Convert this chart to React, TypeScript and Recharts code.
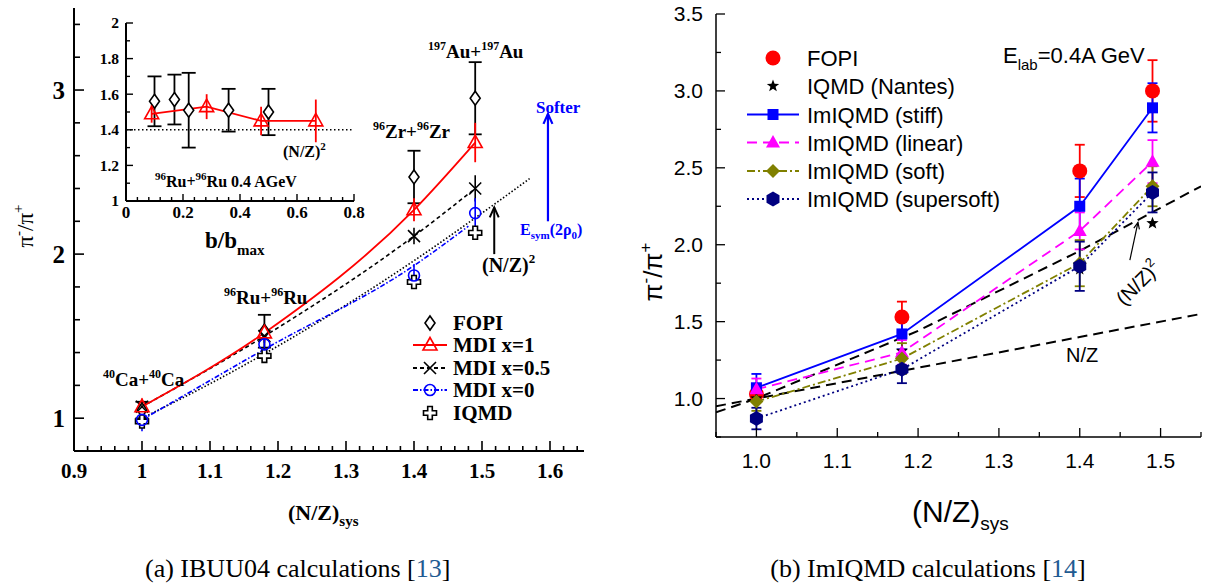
import React from 'react';
import { ComposedChart, Line, Scatter, XAxis, YAxis, ErrorBar, ReferenceLine } from 'recharts';

const SERIF = '"Liberation Serif", "Times New Roman", serif';
const SANS = '"Liberation Sans", Arial, sans-serif';

// ---------- panel (a): IBUU04 ----------
const nzSys = [1.0, 1.18, 1.4, 1.49];
const fopiA = [1.05, 1.53, 2.47, 2.95];
const fopiAErr = [0.05, 0.1, 0.16, 0.22];
const mdiX1 = [1.07, 1.52, 2.27, 2.68];
const mdiX1Err = [0.05, 0.05, 0.07, 0.12];
const mdiX05 = [1.07, 1.5, 2.11, 2.4];
const mdiX05Err = [0.03, 0.04, 0.05, 0.08];
const mdiX0 = [0.99, 1.45, 1.87, 2.25];
const mdiX0Err = [0.07, 0.06, 0.07, 0.09];
const mdiX0CurveX = [1.0, 1.18, 1.4, 1.48];
const mdiX0Curve = [0.99, 1.42, 1.93, 2.17];
const iqmdA = [0.98, 1.38, 1.83, 2.13];
const nzSqAX = [1.0, 1.1, 1.2, 1.3, 1.4, 1.5, 1.57];
const nzSqAY = [1.0, 1.21, 1.44, 1.69, 1.96, 2.25, 2.46];

// inset: Ru+Ru centrality dependence
const insetFopiB = [0.1, 0.17, 0.22, 0.36, 0.5];
const insetFopi = [1.56, 1.57, 1.51, 1.51, 1.5];
const insetFopiErr = [0.14, 0.14, 0.21, 0.12, 0.13];
const insetMdiB = [0.09, 0.283, 0.474, 0.666];
const insetMdi = [1.49, 1.53, 1.45, 1.45];
const insetMdiErr = [0.05, 0.07, 0.08, 0.12];
const insetNzSqB = [0, 0.8];
const insetNzSq = [1.4, 1.4];

// ---------- panel (b): ImIQMD ----------
const fopiB = [1.03, 1.53, 2.48, 3.0];
const fopiBErr = [0.05, 0.1, 0.17, 0.2];
const iqmdNantes = [1.0, 1.31, 1.84, 2.14];
const stiff = [1.07, 1.42, 2.25, 2.89];
const stiffErr = [0.09, 0.1, 0.18, 0.16];
const linear = [1.06, 1.3, 2.09, 2.54];
const linearErr = [0.07, 0.08, 0.12, 0.14];
const soft = [0.98, 1.26, 1.88, 2.38];
const softErr = [0.06, 0.1, 0.15, 0.13];
const supersoft = [0.87, 1.19, 1.86, 2.34];
const supersoftErr = [0.07, 0.09, 0.16, 0.13];
const refBX = [0.95, 1.0, 1.2, 1.4, 1.55];
const nzB = [0.95, 1.0, 1.2, 1.4, 1.55];
const nzSqB = [0.91, 1.0, 1.44, 1.96, 2.38];

// tick marks
const steps = (a: number, b: number, s: number) => {
  const out: number[] = [];
  const n = Math.round((b - a) / s);
  for (let i = 0; i <= n; i++) out.push(+(a + i * s).toFixed(4));
  return out;
};
const aYTicks = steps(0.8, 3.4, 0.2);
const aYMajors = [1, 2, 3];
const aXTicks = steps(0.9, 1.64, 0.02);
const aXMajors = [0.9, 1, 1.1, 1.2, 1.3, 1.4, 1.5, 1.6];
const inYTicks = steps(1, 2, 0.1);
const inYMajors = [1, 1.2, 1.4, 1.6, 1.8, 2];
const inXTicks = steps(0, 0.8, 0.04);
const inXMajors = [0, 0.2, 0.4, 0.6, 0.8];
const bYTicks = steps(0.75, 3.5, 0.25);
const bYMajors = [1, 1.5, 2, 2.5, 3, 3.5];
const bXTicks = steps(0.95, 1.55, 0.05);
const bXMajors = [1, 1.1, 1.2, 1.3, 1.4, 1.5];

const pts = (xs: number[], ys: number[], es?: number[]) =>
  xs.map((x, i) => ({ x, y: ys[i], e: es ? es[i] : 0 }));

type Side = 'left' | 'right' | 'bottom' | 'top';
interface AxisLook {
  side: Side;
  majors: number[];
  labels: boolean;
  major: number;
  minor: number;
  offset: number;
  font: string;
  size: number;
  weight?: number | string;
  stroke: number;
  fmt: (v: number) => string;
}

// inward ticks, labels only on major values
function tickRenderer(a: AxisLook) {
  return (props: any) => {
    const { x, y, payload } = props;
    const v = Number(payload.value);
    const isMajor = a.majors.some((m) => Math.abs(m - v) < 1e-6);
    const len = isMajor ? a.major : a.minor;
    let l = { x1: x, y1: y, x2: x, y2: y };
    let tx = x;
    let ty = y;
    let anchor: 'start' | 'middle' | 'end' = 'middle';
    if (a.side === 'left') {
      l = { x1: x, y1: y, x2: x + len, y2: y };
      tx = x - a.offset;
      ty = y + a.size * 0.35;
      anchor = 'end';
    } else if (a.side === 'right') {
      l = { x1: x, y1: y, x2: x - len, y2: y };
    } else if (a.side === 'bottom') {
      l = { x1: x, y1: y, x2: x, y2: y - len };
      ty = y + a.offset;
    } else {
      l = { x1: x, y1: y, x2: x, y2: y + len };
    }
    return (
      <g>
        <line {...l} stroke="#000" strokeWidth={a.stroke} />
        {isMajor && a.labels && (
          <text x={tx} y={ty} textAnchor={anchor} fontFamily={a.font} fontSize={a.size} fontWeight={a.weight} fill="#000">
            {a.fmt(v)}
          </text>
        )}
      </g>
    );
  };
}

const fmtShort = (v: number) => String(+v.toFixed(2));
const fmtOne = (v: number) => v.toFixed(1);

function starPath(cx: number, cy: number, ro: number, ri: number) {
  let d = '';
  for (let k = 0; k < 10; k++) {
    const r = k % 2 === 0 ? ro : ri;
    const ang = -Math.PI / 2 + (k * Math.PI) / 5;
    d += `${k === 0 ? 'M' : 'L'}${cx + r * Math.cos(ang)},${cy + r * Math.sin(ang)}`;
  }
  return d + 'Z';
}

function hexPath(cx: number, cy: number, r: number) {
  let d = '';
  for (let k = 0; k < 6; k++) {
    const ang = -Math.PI / 2 + (k * Math.PI) / 3;
    d += `${k === 0 ? 'M' : 'L'}${cx + r * Math.cos(ang)},${cy + r * Math.sin(ang)}`;
  }
  return d + 'Z';
}

function Marker({ kind, cx, cy }: { kind: string; cx: number; cy: number }) {
  if (cx == null || cy == null) return null;
  switch (kind) {
    case 'fopiA':
      return <path d={`M${cx},${cy - 7}L${cx + 5},${cy}L${cx},${cy + 7}L${cx - 5},${cy}Z`} fill="#fff" stroke="#000" strokeWidth={1.6} />;
    case 'mdi1':
      return <path d={`M${cx},${cy - 7.5}L${cx + 7},${cy + 5}L${cx - 7},${cy + 5}Z`} fill="none" stroke="#f00" strokeWidth={1.6} />;
    case 'mdi05':
      return <path d={`M${cx - 6},${cy - 6}L${cx + 6},${cy + 6}M${cx + 6},${cy - 6}L${cx - 6},${cy + 6}`} stroke="#000" strokeWidth={1.6} />;
    case 'mdi0':
      return <circle cx={cx} cy={cy} r={5.5} fill="none" stroke="#00f" strokeWidth={1.6} />;
    case 'iqmdA': {
      const a = 6.5;
      const b = 2.3;
      const p = [[-b, -a], [b, -a], [b, -b], [a, -b], [a, b], [b, b], [b, a], [-b, a], [-b, b], [-a, b], [-a, -b], [-b, -b]];
      return <polygon points={p.map(([u, w]) => `${cx + u},${cy + w}`).join(' ')} fill="#fff" stroke="#000" strokeWidth={1.6} />;
    }
    case 'fopiB':
      return <circle cx={cx} cy={cy} r={7.5} fill="#f00" />;
    case 'star':
      return <path d={starPath(cx, cy, 6.5, 2.7)} fill="#000" />;
    case 'stiff':
      return <rect x={cx - 5.5} y={cy - 5.5} width={11} height={11} fill="#0000ff" />;
    case 'linear':
      return <path d={`M${cx},${cy - 7.5}L${cx + 7},${cy + 5}L${cx - 7},${cy + 5}Z`} fill="#ff00ff" />;
    case 'soft':
      return <path d={`M${cx},${cy - 7}L${cx + 7},${cy}L${cx},${cy + 7}L${cx - 7},${cy}Z`} fill="#808000" />;
    case 'supersoft':
      return <path d={hexPath(cx, cy, 7.5)} fill="#000080" />;
    default:
      return null;
  }
}

const dotOf = (kind: string) => (p: any) => <Marker key={p.index} kind={kind} cx={p.cx} cy={p.cy} />;
const shapeOf = (kind: string) => (p: any) => <Marker kind={kind} cx={p.cx} cy={p.cy} />;

// arrow drawn from the first segment point to the second
const arrowShape = (color: string, w: number, head: number) => (p: any) => {
  const { x1, y1, x2, y2 } = p;
  const ang = Math.atan2(y2 - y1, x2 - x1);
  const a1 = ang + Math.PI - 0.42;
  const a2 = ang + Math.PI + 0.42;
  return (
    <g>
      <line x1={x1} y1={y1} x2={x2} y2={y2} stroke={color} strokeWidth={w} />
      <polyline
        points={`${x2 + head * Math.cos(a1)},${y2 + head * Math.sin(a1)} ${x2},${y2} ${x2 + head * Math.cos(a2)},${y2 + head * Math.sin(a2)}`}
        fill="none"
        stroke={color}
        strokeWidth={w}
      />
    </g>
  );
};

function PanelA() {
  return (
    <ComposedChart width={600} height={585} margin={{ top: 8, right: 16, bottom: 94, left: 34 }}>
      <XAxis
        type="number"
        dataKey="x"
        domain={[0.9, 1.65]}
        ticks={aXTicks}
        interval={0}
        tickSize={0}
        tickMargin={0}
        height={40}
        allowDataOverflow
        axisLine={{ stroke: '#000', strokeWidth: 2 }}
        tick={tickRenderer({ side: 'bottom', majors: aXMajors, labels: true, major: 10, minor: 5, offset: 27, font: SERIF, size: 21, weight: 'bold', stroke: 1.6, fmt: fmtShort })}
      />
      <XAxis xAxisId="top" orientation="top" type="number" dataKey="x" domain={[0.9, 1.65]} height={0} tick={false} tickLine={false} allowDataOverflow axisLine={{ stroke: '#000', strokeWidth: 2 }} />
      <YAxis
        type="number"
        domain={[0.8, 3.5]}
        ticks={aYTicks}
        interval={0}
        tickSize={0}
        tickMargin={0}
        width={40}
        allowDataOverflow
        axisLine={{ stroke: '#000', strokeWidth: 2 }}
        tick={tickRenderer({ side: 'left', majors: aYMajors, labels: true, major: 10, minor: 6, offset: 9, font: SERIF, size: 25, weight: 'bold', stroke: 1.6, fmt: fmtShort })}
      />
      <YAxis yAxisId="right" orientation="right" type="number" domain={[0.8, 3.5]} width={0} tick={false} tickLine={false} allowDataOverflow axisLine={{ stroke: '#000', strokeWidth: 2 }} />

      <Line data={pts(nzSqAX, nzSqAY)} dataKey="y" type="monotone" stroke="#000" strokeWidth={1.6} strokeDasharray="1.5 2" dot={false} activeDot={false} isAnimationActive={false} />
      <Line data={pts(mdiX0CurveX, mdiX0Curve)} dataKey="y" type="monotone" stroke="#0000ff" strokeWidth={1.6} strokeDasharray="5 2 1.5 2" dot={false} activeDot={false} isAnimationActive={false} />
      <Scatter data={pts(nzSys, fopiA, fopiAErr)} dataKey="y" shape={shapeOf('fopiA')} isAnimationActive={false}>
        <ErrorBar dataKey="e" direction="y" width={6.5} stroke="#000" strokeWidth={1.8} />
      </Scatter>
      <Scatter data={pts(nzSys, iqmdA)} dataKey="y" shape={shapeOf('iqmdA')} isAnimationActive={false} />
      <Line data={pts(nzSys, mdiX05, mdiX05Err)} dataKey="y" type="monotone" stroke="#000" strokeWidth={1.6} strokeDasharray="4 3" dot={dotOf('mdi05')} activeDot={false} isAnimationActive={false}>
        <ErrorBar dataKey="e" direction="y" width={0} stroke="#000" strokeWidth={1.6} />
      </Line>
      <Line data={pts(nzSys, mdiX1, mdiX1Err)} dataKey="y" type="monotone" stroke="#ff0000" strokeWidth={1.8} dot={dotOf('mdi1')} activeDot={false} isAnimationActive={false}>
        <ErrorBar dataKey="e" direction="y" width={0} stroke="#ff0000" strokeWidth={1.8} />
      </Line>
      <Scatter data={pts(nzSys, mdiX0, mdiX0Err)} dataKey="y" shape={shapeOf('mdi0')} isAnimationActive={false}>
        <ErrorBar dataKey="e" direction="y" width={0} stroke="#0000ff" strokeWidth={1.6} />
      </Scatter>

      <ReferenceLine segment={[{ x: 1.518, y: 2.0 }, { x: 1.518, y: 2.285 }]} shape={arrowShape('#000', 2, 11)} />
      <ReferenceLine segment={[{ x: 1.597, y: 2.2 }, { x: 1.597, y: 2.855 }]} shape={arrowShape('#0000ff', 2.2, 11)} />
    </ComposedChart>
  );
}

function Inset() {
  return (
    <ComposedChart width={290} height={240} margin={{ top: 23, right: 16, bottom: 9, left: 16 }}>
      <XAxis
        type="number"
        dataKey="x"
        domain={[0, 0.8]}
        ticks={inXTicks}
        interval={0}
        tickSize={0}
        tickMargin={0}
        height={30}
        allowDataOverflow
        axisLine={{ stroke: '#000', strokeWidth: 2 }}
        tick={tickRenderer({ side: 'bottom', majors: inXMajors, labels: true, major: 7, minor: 4, offset: 17, font: SERIF, size: 17, weight: 'bold', stroke: 1.4, fmt: fmtShort })}
      />
      <XAxis xAxisId="top" orientation="top" type="number" dataKey="x" domain={[0, 0.8]} height={0} tick={false} tickLine={false} allowDataOverflow axisLine={{ stroke: '#000', strokeWidth: 2 }} />
      <YAxis
        type="number"
        domain={[1, 2]}
        ticks={inYTicks}
        interval={0}
        tickSize={0}
        tickMargin={0}
        width={30}
        allowDataOverflow
        axisLine={{ stroke: '#000', strokeWidth: 2 }}
        tick={tickRenderer({ side: 'left', majors: inYMajors, labels: true, major: 7, minor: 4, offset: 7, font: SERIF, size: 15.5, weight: 'bold', stroke: 1.4, fmt: fmtShort })}
      />
      <YAxis yAxisId="right" orientation="right" type="number" domain={[1, 2]} width={0} tick={false} tickLine={false} allowDataOverflow axisLine={{ stroke: '#000', strokeWidth: 2 }} />

      <Line data={pts(insetNzSqB, insetNzSq)} dataKey="y" type="linear" stroke="#000" strokeWidth={1.4} strokeDasharray="1.5 2.5" dot={false} activeDot={false} isAnimationActive={false} />
      <Scatter data={pts(insetFopiB, insetFopi, insetFopiErr)} dataKey="y" shape={shapeOf('fopiA')} isAnimationActive={false}>
        <ErrorBar dataKey="e" direction="y" width={7} stroke="#000" strokeWidth={1.8} />
      </Scatter>
      <Line data={pts(insetMdiB, insetMdi, insetMdiErr)} dataKey="y" type="linear" stroke="#ff0000" strokeWidth={1.8} dot={dotOf('mdi1')} activeDot={false} isAnimationActive={false}>
        <ErrorBar dataKey="e" direction="y" width={0} stroke="#ff0000" strokeWidth={1.8} />
      </Line>
    </ComposedChart>
  );
}

function PanelB() {
  const frame = { stroke: '#000', strokeWidth: 1.5 };
  const tickCommon = { labels: true, major: 9, minor: 5, font: SANS, size: 21, stroke: 1.3, fmt: fmtOne };
  return (
    <ComposedChart width={595} height={585} margin={{ top: 14, right: 14, bottom: 108, left: 36 }}>
      <XAxis
        type="number"
        dataKey="x"
        domain={[0.95, 1.55]}
        ticks={bXTicks}
        interval={0}
        tickSize={0}
        tickMargin={0}
        height={40}
        allowDataOverflow
        axisLine={frame}
        tick={tickRenderer({ ...tickCommon, side: 'bottom', majors: bXMajors, offset: 31 })}
      />
      <XAxis
        xAxisId="top"
        orientation="top"
        type="number"
        dataKey="x"
        domain={[0.95, 1.55]}
        ticks={bXTicks}
        interval={0}
        tickSize={0}
        tickMargin={0}
        height={0}
        allowDataOverflow
        axisLine={frame}
        tick={tickRenderer({ ...tickCommon, side: 'top', majors: bXMajors, labels: false, offset: 0 })}
      />
      <YAxis
        type="number"
        domain={[0.75, 3.5]}
        ticks={bYTicks}
        interval={0}
        tickSize={0}
        tickMargin={0}
        width={60}
        allowDataOverflow
        axisLine={frame}
        tick={tickRenderer({ ...tickCommon, side: 'left', majors: bYMajors, offset: 13 })}
      />
      <YAxis
        yAxisId="right"
        orientation="right"
        type="number"
        domain={[0.75, 3.5]}
        ticks={bYTicks}
        interval={0}
        tickSize={0}
        tickMargin={0}
        width={0}
        allowDataOverflow
        axisLine={frame}
        tick={tickRenderer({ ...tickCommon, side: 'right', majors: bYMajors, labels: false, offset: 0 })}
      />

      <Line data={pts(refBX, nzB)} dataKey="y" type="linear" stroke="#000" strokeWidth={2} strokeDasharray="10 6" dot={false} activeDot={false} isAnimationActive={false} />
      <Line data={pts(refBX, nzSqB)} dataKey="y" type="linear" stroke="#000" strokeWidth={2} strokeDasharray="10 6" dot={false} activeDot={false} isAnimationActive={false} />
      <Scatter data={pts(nzSys, fopiB, fopiBErr)} dataKey="y" shape={shapeOf('fopiB')} isAnimationActive={false}>
        <ErrorBar dataKey="e" direction="y" width={5} stroke="#ff0000" strokeWidth={1.8} />
      </Scatter>
      <Scatter data={pts(nzSys, iqmdNantes)} dataKey="y" shape={shapeOf('star')} isAnimationActive={false} />
      <Line data={pts(nzSys, stiff, stiffErr)} dataKey="y" type="linear" stroke="#0000ff" strokeWidth={1.8} dot={dotOf('stiff')} activeDot={false} isAnimationActive={false}>
        <ErrorBar dataKey="e" direction="y" width={5} stroke="#0000ff" strokeWidth={1.8} />
      </Line>
      <Line data={pts(nzSys, linear, linearErr)} dataKey="y" type="linear" stroke="#ff00ff" strokeWidth={1.8} strokeDasharray="10 6" dot={dotOf('linear')} activeDot={false} isAnimationActive={false}>
        <ErrorBar dataKey="e" direction="y" width={5} stroke="#ff00ff" strokeWidth={1.8} />
      </Line>
      <Line data={pts(nzSys, soft, softErr)} dataKey="y" type="linear" stroke="#808000" strokeWidth={1.8} strokeDasharray="8 3 2 3" dot={dotOf('soft')} activeDot={false} isAnimationActive={false}>
        <ErrorBar dataKey="e" direction="y" width={5} stroke="#808000" strokeWidth={1.8} />
      </Line>
      <Line data={pts(nzSys, supersoft, supersoftErr)} dataKey="y" type="linear" stroke="#000080" strokeWidth={1.8} strokeDasharray="2 3" dot={dotOf('supersoft')} activeDot={false} isAnimationActive={false}>
        <ErrorBar dataKey="e" direction="y" width={5} stroke="#000080" strokeWidth={1.8} />
      </Line>

      <ReferenceLine segment={[{ x: 1.462, y: 1.9 }, { x: 1.472, y: 2.145 }]} shape={arrowShape('#000', 1.2, 7)} />
    </ComposedChart>
  );
}

const legendA = [
  { kind: 'fopiA', label: 'FOPI', stroke: '', dash: '' },
  { kind: 'mdi1', label: 'MDI x=1', stroke: '#ff0000', dash: '' },
  { kind: 'mdi05', label: 'MDI x=0.5', stroke: '#000', dash: '4 3' },
  { kind: 'mdi0', label: 'MDI x=0', stroke: '#0000ff', dash: '5 2 1.5 2' },
  { kind: 'iqmdA', label: 'IQMD', stroke: '', dash: '' },
];
const legendB = [
  { kind: 'fopiB', label: 'FOPI', stroke: '', dash: '' },
  { kind: 'star', label: 'IQMD (Nantes)', stroke: '', dash: '' },
  { kind: 'stiff', label: 'ImIQMD (stiff)', stroke: '#0000ff', dash: '' },
  { kind: 'linear', label: 'ImIQMD (linear)', stroke: '#ff00ff', dash: '10 6' },
  { kind: 'soft', label: 'ImIQMD (soft)', stroke: '#808000', dash: '8 3 2 3' },
  { kind: 'supersoft', label: 'ImIQMD (supersoft)', stroke: '#000080', dash: '2 3' },
];

// "AA+AA" reaction label with mass-number superscripts
function Reaction({ x, y, a, el, size, sup }: { x: number; y: number; a: string; el: string; size: number; sup: number }) {
  const up = size * 0.42;
  return (
    <text x={x} y={y} fontFamily={SERIF} fontWeight="bold" fontSize={size} fill="#000">
      <tspan fontSize={sup} dy={-up}>{a}</tspan>
      <tspan dy={up}>{el}+</tspan>
      <tspan fontSize={sup} dy={-up}>{a}</tspan>
      <tspan dy={up}>{el}</tspan>
    </text>
  );
}

function Annotations() {
  const rowsA = [323, 345, 368, 390, 413];
  const rowsB = [58, 86, 114.5, 142.5, 171, 199];
  return (
    <svg width={1215} height={585} style={{ position: 'absolute', left: 0, top: 0, pointerEvents: 'none' }}>
      {/* panel (a) */}
      <text transform="rotate(-90 33 226)" x={33} y={226} textAnchor="middle" fontFamily={SERIF} fontSize={23} fill="#000">
        π<tspan fontSize={15} dy={-10}>-</tspan>
        <tspan dy={10}>/π</tspan>
        <tspan fontSize={15} dy={-10}>+</tspan>
      </text>
      <text x={288} y={520} fontFamily={SERIF} fontWeight="bold" fontSize={22} fill="#000">
        (N/Z)<tspan fontSize={15} dy={6}>sys</tspan>
      </text>
      <text x={205} y={248} fontFamily={SERIF} fontWeight="bold" fontSize={23} fill="#000">
        b/b<tspan fontSize={15} dy={7}>max</tspan>
      </text>
      <Reaction x={103} y={386} a="40" el="Ca" size={19} sup={12} />
      <Reaction x={224} y={304} a="96" el="Ru" size={19} sup={12} />
      <Reaction x={373} y={138} a="96" el="Zr" size={19} sup={12} />
      <Reaction x={428} y={58} a="197" el="Au" size={19} sup={12} />
      <text x={155} y={187} fontFamily={SERIF} fontWeight="bold" fontSize={16} fill="#000">
        <tspan fontSize={11} dy={-7}>96</tspan>
        <tspan dy={7}>Ru+</tspan>
        <tspan fontSize={11} dy={-7}>96</tspan>
        <tspan dy={7}>Ru 0.4 AGeV</tspan>
      </text>
      <text x={283} y={157} fontFamily={SERIF} fontWeight="bold" fontSize={16} fill="#000">
        (N/Z)<tspan fontSize={11} dy={-7}>2</tspan>
      </text>
      <text x={482} y={272} fontFamily={SERIF} fontWeight="bold" fontSize={20} fill="#000">
        (N/Z)<tspan fontSize={13} dy={-9}>2</tspan>
      </text>
      <text x={536} y={113} fontFamily={SERIF} fontWeight="bold" fontSize={17} fill="#0000ff">
        Softer
      </text>
      <text x={520} y={235} fontFamily={SERIF} fontWeight="bold" fontSize={16} fill="#0000ff">
        E<tspan fontSize={11} dy={4}>sym</tspan>
        <tspan dy={-4}>(2ρ</tspan>
        <tspan fontSize={11} dy={4}>0</tspan>
        <tspan dy={-4}>)</tspan>
      </text>
      {legendA.map((r, i) => (
        <g key={r.label}>
          {r.stroke && <line x1={413} x2={447} y1={rowsA[i]} y2={rowsA[i]} stroke={r.stroke} strokeWidth={1.8} strokeDasharray={r.dash || undefined} />}
          <Marker kind={r.kind} cx={430} cy={rowsA[i]} />
          <text x={453} y={rowsA[i] + 7} fontFamily={SERIF} fontWeight="bold" fontSize={21} fill="#000">
            {r.label}
          </text>
        </g>
      ))}
      <text x={145} y={577} fontFamily={SERIF} fontSize={26} fill="#000">
        (a) IBUU04 calculations [<tspan fill="#1f5b92">13</tspan>]
      </text>

      {/* panel (b) */}
      <text transform="rotate(-90 662 272)" x={662} y={272} textAnchor="middle" fontFamily={SANS} fontSize={26} fill="#000">
        π<tspan fontSize={17} dy={-11}>-</tspan>
        <tspan dy={11}>/π</tspan>
        <tspan fontSize={17} dy={-11}>+</tspan>
      </text>
      <text x={912} y={522} fontFamily={SANS} fontSize={30} fill="#000">
        (N/Z)<tspan fontSize={19} dy={8}>sys</tspan>
      </text>
      <text x={1003} y={63} fontFamily={SANS} fontSize={22} fill="#000">
        E<tspan fontSize={15} dy={7}>lab</tspan>
        <tspan dy={-7}>=0.4A GeV</tspan>
      </text>
      <text x={1066} y={362} fontFamily={SANS} fontSize={20} fill="#000">
        N/Z
      </text>
      <text transform="rotate(-45 1138 283)" x={1138} y={290} textAnchor="middle" fontFamily={SANS} fontSize={20} fill="#000">
        (N/Z)<tspan fontSize={13} dy={-9}>2</tspan>
      </text>
      {legendB.map((r, i) => (
        <g key={r.label}>
          {r.stroke && <line x1={747} x2={799} y1={rowsB[i]} y2={rowsB[i]} stroke={r.stroke} strokeWidth={1.8} strokeDasharray={r.dash || undefined} />}
          <Marker kind={r.kind} cx={773} cy={rowsB[i]} />
          <text x={807} y={rowsB[i] + 8} fontFamily={SANS} fontSize={22} fill="#000">
            {r.label}
          </text>
        </g>
      ))}
      <text x={928} y={577} textAnchor="middle" fontFamily={SERIF} fontSize={26} fill="#000">
        (b) ImIQMD calculations [<tspan fill="#1f5b92">14</tspan>]
      </text>
    </svg>
  );
}

export default function App() {
  return (
    <div style={{ position: 'absolute', left: 0, top: 0, width: 1215, height: 585, background: '#fff', overflow: 'hidden' }}>
      <div style={{ position: 'absolute', left: 0, top: 0 }}>
        <PanelA />
      </div>
      <div style={{ position: 'absolute', left: 80, top: 0 }}>
        <Inset />
      </div>
      <div style={{ position: 'absolute', left: 620, top: 0 }}>
        <PanelB />
      </div>
      <Annotations />
    </div>
  );
}
